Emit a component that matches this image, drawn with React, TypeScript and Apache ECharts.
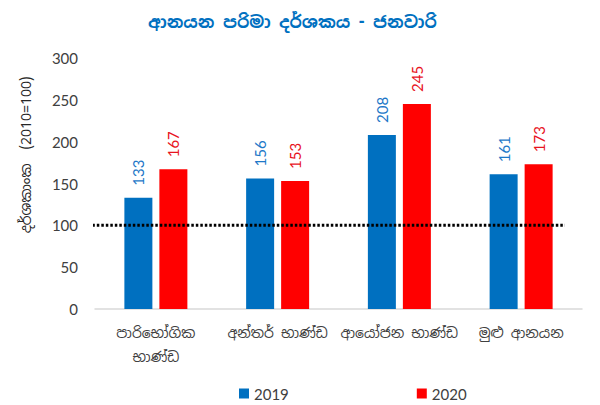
import React, { useEffect, useRef } from "react";
import * as echarts from "echarts";

const categories = ["පාරිභෝගික\nභාණ්ඩ", "අන්තර් භාණ්ඩ", "ආයෝජන භාණ්ඩ", "මුළු ආනයන"];
const values2019 = [133, 156, 208, 161];
const values2020 = [167, 153, 245, 173];
const yTicks = { min: 0, max: 300, interval: 50 };
const baseLineValue = 100;
const titleText = "ආනයන පරිමා දර්ශකය - ජනවාරි";
const yAxisTitle = "දර්ශකාංක  (2010=100)";

const FONT = "'Noto Sans Sinhala', 'Iskoola Pota', Lato, 'Noto Sans', sans-serif";
const BLUE = "#0070C0";
const RED = "#FF0000";
const BAR_W = 28;
const BAR_GAP = 7;

export default function App() {
  const ref = useRef<HTMLDivElement>(null);
  useEffect(() => {
    if (!ref.current) return;
    const chart = echarts.init(ref.current, undefined, { renderer: "svg" });
    const labelSeries = (vals: number[], color: string, side: number) => ({
      type: "custom",
      silent: true,
      z: 10,
      data: vals.map((v, i) => [i, v]),
      renderItem: (params: any, api: any) => {
        const pt = api.coord([api.value(0), api.value(1)]);
        const dx = side * (BAR_W + BAR_GAP) / 2;
        return {
          type: "text",
          x: pt[0] + dx,
          y: pt[1] - 12,
          rotation: Math.PI / 2,
          style: {
            text: String(api.value(1)),
            fill: color,
            fontSize: 15,
            fontFamily: "Lato, sans-serif",
            align: "left",
            verticalAlign: "middle",
          },
        };
      },
    });
    chart.setOption({
      animation: false,
      backgroundColor: "#fff",
      title: {
        text: titleText,
        left: 143,
        top: 8,
        textStyle: { color: BLUE, fontSize: 17, fontWeight: "bold", fontFamily: FONT },
      },
      graphic: [
        {
          type: "text",
          x: 26,
          y: 155,
          rotation: Math.PI / 2,
          style: {
            text: yAxisTitle,
            fill: "#262626",
            fontSize: 14,
            fontFamily: FONT,
            align: "center",
            verticalAlign: "middle",
          },
        },
      ],
      legend: {
        data: ["2019", "2020"],
        left: 239,
        top: 386,
        padding: 0,
        itemWidth: 10,
        itemHeight: 10,
        itemGap: 128,
        icon: "rect",
        textStyle: { fontSize: 15, color: "#404040", fontFamily: "Lato, sans-serif" },
      },
      grid: { left: 95, right: 18, top: 58, bottom: 96 },
      xAxis: [
        {
          type: "category",
          data: categories,
          axisLine: { show: true, lineStyle: { color: "#D9D9D9", width: 1.5 } },
          axisTick: { show: false },
          axisLabel: {
            fontSize: 14,
            color: "#404040",
            fontFamily: FONT,
            margin: 12,
            lineHeight: 24,
            interval: 0,
          },
        },
        { type: "value", min: 0, max: 1, show: false },
      ],
      yAxis: {
        type: "value",
        min: yTicks.min,
        max: yTicks.max,
        interval: yTicks.interval,
        axisLine: { show: false },
        axisTick: { show: false },
        splitLine: { show: false },
        axisLabel: { fontSize: 15, color: "#404040", fontFamily: "Lato, sans-serif", margin: 17 },
      },
      series: [
        {
          name: "2019",
          type: "bar",
          data: values2019,
          barWidth: BAR_W,
          barGap: "25%",
          itemStyle: { color: BLUE },
        },
        {
          name: "2020",
          type: "bar",
          data: values2020,
          barWidth: BAR_W,
          itemStyle: { color: RED },
        },
        labelSeries(values2019, "#1E78C8", -1),
        labelSeries(values2020, "#E8141E", 1),
        {
          name: "base",
          type: "line",
          xAxisIndex: 1,
          data: [
            [-0.024, baseLineValue],
            [0.965, baseLineValue],
          ],
          symbol: "none",
          clip: false,
          silent: true,
          z: 5,
          lineStyle: { color: "#000", width: 3, type: [2.5, 2] },
        },
      ],
    });
    return () => chart.dispose();
  }, []);
  return <div ref={ref} style={{ width: 600, height: 405, position: "absolute", left: 0, top: 0 }} />;
}
